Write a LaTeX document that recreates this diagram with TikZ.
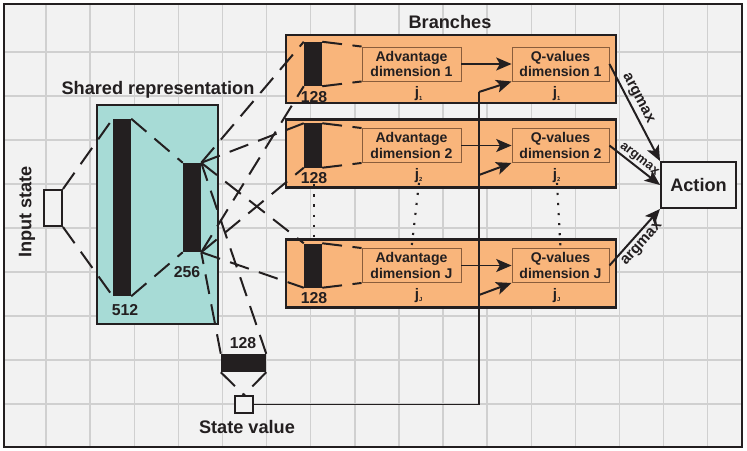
\documentclass[tikz,border=0pt]{standalone}
\usepackage{fontspec}
\setsansfont{Liberation Sans}
\usetikzlibrary{arrows.meta,positioning}

\definecolor{ink}{HTML}{231F20}
\definecolor{paper}{HTML}{F2F2F2}
\definecolor{gridgray}{HTML}{D0D0D0}
\definecolor{branchfill}{HTML}{F9B57B}
\definecolor{sharedfill}{HTML}{A7DBD6}
\definecolor{unitline}{HTML}{8A5D3B}

\begin{document}
\begin{tikzpicture}[
      x=0.03cm, y=-0.03cm,
      every node/.style={font=\sffamily\bfseries, text=ink, inner sep=0pt},
      size/.style 2 args={minimum width=#1*0.03cm, minimum height=#2*0.03cm},
      layer/.style={fill=ink, draw=none},
      link/.style={draw=ink, line width=1.7pt, dash pattern=on 17pt off 9pt},
      flow/.style={draw=ink, line width=1.7pt, -{Stealth[length=13pt,width=11pt,inset=3pt]}},
      dots/.style={draw=ink, line width=1.8pt, dash pattern=on 1.8pt off 6.8pt},
      plainbox/.style={draw=ink, fill=paper, line width=1.7pt},
      branch/.style={draw=ink, fill=branchfill, line width=2.4pt, size={330}{68}},
      unitbox/.style={draw=unitline, line width=0.8pt, align=center,
        font=\sffamily\bfseries\fontsize{12}{13.5}\selectfont},
      num/.style={font=\sffamily\bfseries\fontsize{13.5}{14}\selectfont},
      jlab/.style={font=\sffamily\bfseries\fontsize{13}{14}\selectfont},
      title/.style={font=\sffamily\bfseries\fontsize{15.5}{16}\selectfont},
      arg/.style={font=\sffamily\bfseries\fontsize{13}{14}\selectfont}
    ]

    \useasboundingbox (0,0) rectangle (747,451);
    \fill[paper] (4,4) rectangle (742,447);
    \begin{scope}
        \clip (4,4) rectangle (742,447);
        \foreach \i in {1,...,16}
            \draw[gridgray, line width=1.2pt] ({2+44.1*\i},4) -- ++(0,443);
        \foreach \i in {1,...,9}
            \draw[gridgray, line width=1.2pt] (4,{8+44*\i}) -- ++(738,0);
    \end{scope}
    \draw[ink, line width=1.7pt] (4,4) rectangle (742,447);

    % shared part
    \node[draw=ink, fill=sharedfill, line width=1.7pt, size={121}{219}] (shared) at (157.5,214.5) {};
    \node[title] (sharedtitle) at (158,90) {Shared representation};
    \node[layer, size={18}{177}] (h512) at (122,207.5) {};
    \node[layer, size={18}{89}] (h256) at (192,207.5) {};
    \node[num] (n512) at (125,310) {512};
    \node[num] (n256) at (187,272) {256};

    \node[plainbox, size={18}{36}] (input) at (53,208) {};
    \node[title, rotate=90] (inputlabel) at (27,212) {Input state};

    \draw[link] (input.north east) -- (h512.north west);
    \draw[link] (input.south east) -- (h512.south west);
    \draw[link] (h512.north east) -- (h256.north west);
    \draw[link] (h512.south east) -- (h256.south west);

    % branches
    \node[title] (branchtitle) at (450,22) {Branches};
    \foreach \k/\yb/\yu in {1/69/64, 2/153.5/145.5, J/273.5/265.5} {
        \node[branch] (br\k) at (451,\yb) {};
        \node[layer, size={18}{44}] (bar\k) at (313,\yu) {};
        \node[unitbox, size={99}{34}] (adv\k) at (411.5,\yu) {Advantage\\dimension \k};
        \node[unitbox, size={97}{34}] (q\k) at (560.5,\yu) {Q-values\\dimension \k};
        \node[num] (n\k) at (314,\yu+33) {128};
        \node[jlab] (ja\k) at (419,\yu+30) {j\textsubscript{\tiny\k}};
        \node[jlab] (jq\k) at (557,\yu+30) {j\textsubscript{\tiny\k}};
        \draw[link] (bar\k.north east) -- (adv\k.north west);
        \draw[link] (bar\k.south east) -- (adv\k.south west);
        \draw[link] (h256.north east) -- (bar\k.north west);
        \draw[link] (h256.south east) -- (bar\k.south west);
        \draw[flow] (adv\k) -- (q\k);
    }
    \draw[dots] (n2.south) -- (n2.south |- brJ.north);
    \draw[dots] (ja2.south) -- (advJ.north);
    \draw[dots] (jq2.south) -- (qJ.north);

    % state value
    \node[layer, size={45}{18}] (vbar) at (243.5,363) {};
    \node[num] (nv) at (243,343) {128};
    \node[plainbox, size={18}{17}] (sv) at (244,404.5) {};
    \node[title] (svlabel) at (247,427) {State value};
    \draw[link] (vbar.north west) -- (h256.south east);
    \draw[link] (vbar.north east) -- (h256.north east);
    \draw[link] (vbar.south west) -- (sv.north);
    \draw[link] (vbar.south east) -- (sv.north);

    \coordinate (tap1) at (479,92);
    \coordinate (tap2) at (479,175);
    \coordinate (tapJ) at (479,295);
    \draw[ink, line width=1.7pt] (sv.east) -| (tap1);
    \draw[flow] (tap1) -- (q1.south west);
    \draw[flow] (tap2) -- (q2.south west);
    \draw[flow] (tapJ) -- (qJ.south west);

    % action
    \node[plainbox, size={75}{46}, title] (action) at (698.5,185) {Action};
    \draw[flow] (q1.east) -- (action.north west)
        node[pos=0.4, above=2pt, sloped, arg] {argmax};
    \draw[flow] (q2.east) -- (action.west)
        node[pos=0.5, above=1pt, sloped, arg, font=\sffamily\bfseries\fontsize{11}{12}\selectfont] {argmax};
    \draw[flow] (qJ.east) -- (action.south west)
        node[pos=0.5, below=3pt, sloped, arg] {argmax};

\end{tikzpicture}
\end{document}
